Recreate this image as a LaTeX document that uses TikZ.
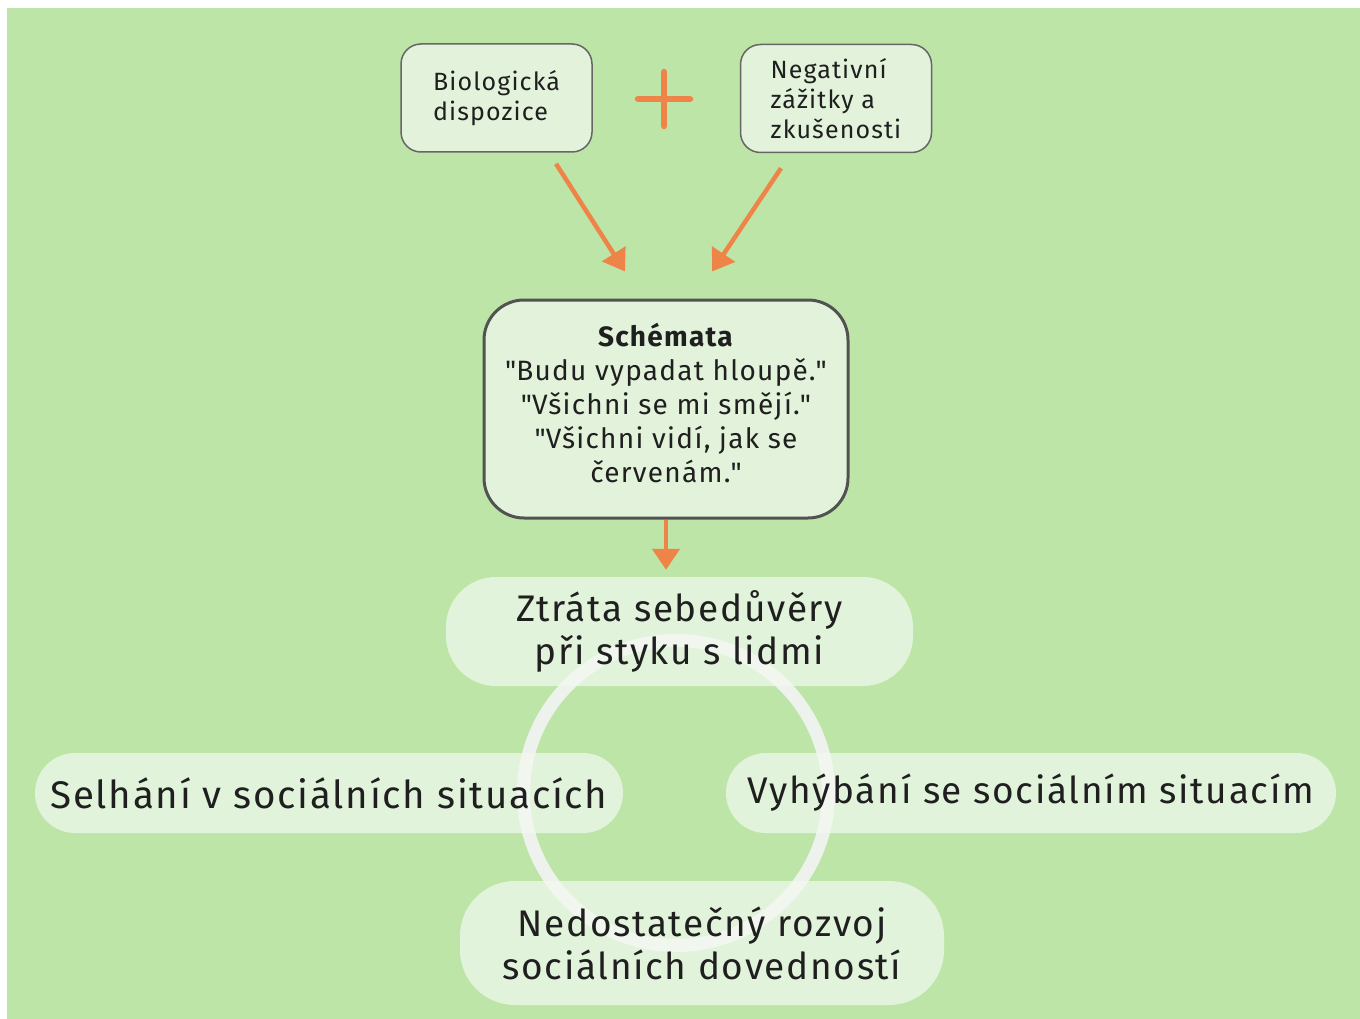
\documentclass[tikz,border=0pt]{standalone}
\usepackage{fontspec}
\setmainfont{Fira Sans}[LetterSpace=4.5]
\usepackage{xcolor}
\usetikzlibrary{arrows.meta, positioning}
\definecolor{bggreen}{HTML}{BDE5A8}
\definecolor{boxfill}{HTML}{E3F3DB}
\definecolor{pillfill}{RGB}{243,249,241}
\definecolor{orangeline}{HTML}{EE8447}
\definecolor{boxline}{HTML}{666666}
\definecolor{ringwhite}{HTML}{EEF2EC}
\tikzstyle{cause} = [rectangle, rounded corners=20pt, minimum width=191pt, minimum height=108pt,
                     draw=boxline, fill=boxfill, line width=1.5pt, align=left,
                     font=\fontsize{25}{30}\selectfont]
\tikzstyle{schema} = [rectangle, rounded corners=40pt, minimum width=364pt, minimum height=218pt,
                      draw=boxline!80!black, fill=boxfill, line width=3pt,
                      font=\fontsize{28}{34}\selectfont]
\tikzstyle{pill} = [rectangle, rounded corners=40pt, fill=pillfill, fill opacity=0.7, text opacity=1,
                    align=center, font=\fontsize{37}{43}\selectfont]
\tikzstyle{arrow} = [line width=4.5pt, draw=orangeline, -{Triangle[length=21pt,width=27pt]}]
\tikzstyle{plus} = [line width=6.5pt, draw=orangeline, line cap=round]
\newcommand{\qq}[1]{\textquotedbl#1\textquotedbl}

\begin{document}
\begin{tikzpicture}[x=1pt, y=-1pt, every node/.style={text=black!88}]

\fill[white] (0,0) rectangle (1360,1019);
\fill[bggreen] (7,8) rectangle (1360,1019);
\useasboundingbox (0,0) rectangle (1360,1019);

% causes
\node (bio) [cause] at (496.5,98) {Biologická\\dispozice};
\node (neg) [cause] at (836,98.5) {Negativní\\zážitky a\\zkušenosti};
\draw [plus] (638,99) -- (690,99) (664,72) -- (664,126);

\node (schema) [schema] at (666,409) {\raisebox{0pt}[20pt][146pt]{\begin{tabular}[t]{@{}c@{}}
  \textbf{Schémata}\\\qq{Budu vypadat hloupě.}\\\qq{Všichni se mi smějí.}\\\qq{Všichni vidí, jak se\\červenám.}
  \end{tabular}}};

% vicious circle
\node (cycle) [circle, draw=ringwhite, line width=13pt, minimum size=305pt] at (676,793) {};

\node (ztrata) [pill, rounded corners=50pt, minimum width=467pt, minimum height=109pt] at (679.5,631.5) {Ztráta sebedůvěry\\při styku s lidmi};
\node (selhani) [pill, minimum width=588pt, minimum height=80pt, font=\fontsize{38.5}{43}\selectfont] at (329,793) {Selhání v sociálních situacích};
\node (vyhybani) [pill, minimum width=610pt, minimum height=80pt] at (1031,793) {Vyhýbání se sociálním situacím};
\node (nedost) [pill, rounded corners=55pt, minimum width=484pt, minimum height=124pt] at (702,943) {Nedostatečný rozvoj\\sociálních dovedností};

\draw [arrow] ([shift={(59.5,11)}]bio.south) -- ([shift={(-41,-27)}]schema.north);
\draw [arrow] ([shift={(-55,15)}]neg.south) -- ([shift={(46,-27)}]schema.north);
\draw [arrow, shorten >=7pt] (schema.south) -- (schema.south |- ztrata.north);

\end{tikzpicture}
\end{document}
